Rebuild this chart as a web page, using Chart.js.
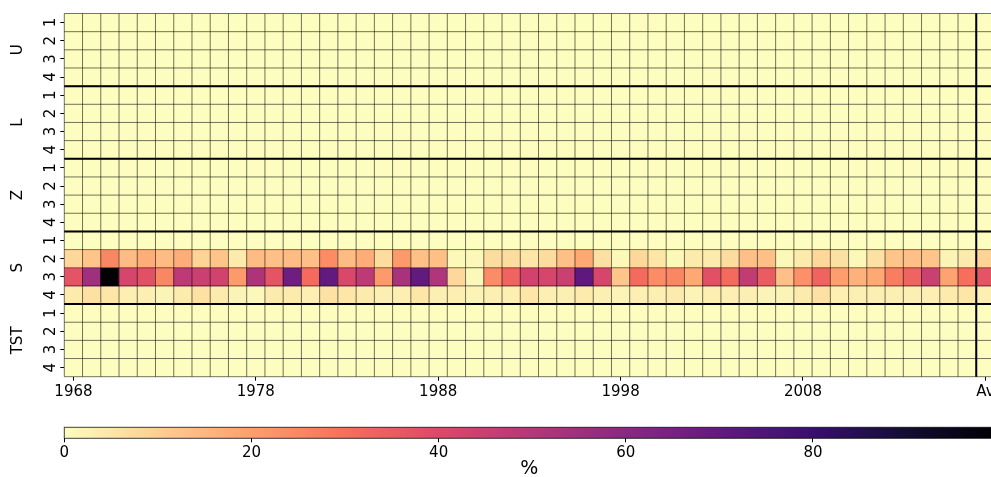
<!DOCTYPE html>
<html>
<head>
<meta charset="utf-8">
<script src="https://cdn.jsdelivr.net/npm/chart.js@4.4.1/dist/chart.umd.min.js"></script>
<style>
  html, body { margin: 0; padding: 0; background: #fff; overflow: hidden; }
  #wrap { position: relative; width: 991px; height: 477px; overflow: hidden; }
  #heat { position: absolute; left: 0; top: 0; }
  #cbar { position: absolute; left: 0; top: 405px; }
</style>
</head>
<body>
<div id="wrap">
  <canvas id="heat" width="1020" height="400"></canvas>
  <canvas id="cbar" width="1020" height="72"></canvas>
</div>
<script>
// Columns: one per year, the last one is the average
const years = [
  '1968', '1969', '1970', '1971', '1972', '1973', '1974', '1975', '1976', '1977',
  '1978', '1979', '1980', '1981', '1982', '1983', '1984', '1985', '1986', '1987',
  '1988', '1989', '1990', '1991', '1992', '1993', '1994', '1995', '1996', '1997',
  '1998', '1999', '2000', '2001', '2002', '2003', '2004', '2005', '2006', '2007',
  '2008', '2009', '2010', '2011', '2012', '2013', '2014', '2015', '2016', '2017',
  'Av'
];
const shownLabels = ['1968', '1978', '1988', '1998', '2008', 'Av'];

const groups = ['U', 'L', 'Z', 'S', 'TST'];
const quarters = ['1', '2', '3', '4'];

// Values in %
const blankRow = [
  0, 0, 0, 0, 0, 0, 0, 0, 0, 0,
  0, 0, 0, 0, 0, 0, 0, 0, 0, 0,
  0, 0, 0, 0, 0, 0, 0, 0, 0, 0,
  0, 0, 0, 0, 0, 0, 0, 0, 0, 0,
  0, 0, 0, 0, 0, 0, 0, 0, 0, 0,
  0
];
const sQ2 = [
  8, 12, 25, 14, 17, 14, 17, 9, 12, 4,
  14, 13, 14, 13, 24, 14, 17, 7, 21, 13,
  13, 1, 1, 7, 7, 5, 7, 13, 18, 6,
  1, 8, 5, 1, 4, 4, 7, 13, 13, 1,
  4, 8, 6, 1, 6, 12, 13, 12, 2, 4,
  9
];
const sQ3 = [
  37, 55, 99, 42, 38, 25, 48, 45, 43, 21,
  52, 37, 67, 31, 70, 41, 48, 21, 53, 70,
  51, 8, 1, 24, 33, 43, 42, 45, 71, 42,
  12, 31, 24, 25, 18, 38, 31, 47, 35, 13,
  23, 33, 20, 16, 18, 27, 33, 45, 19, 30,
  37
];
const sQ4 = [
  4, 6, 5, 3, 3, 2, 4, 6, 4, 2,
  1, 4, 4, 3, 6, 5, 4, 3, 3, 5,
  3, 3, 2, 3, 3, 5, 3, 3, 4, 3,
  2, 3, 3, 4, 2, 3, 3, 3, 2, 2,
  4, 6, 3, 3, 3, 3, 3, 3, 4, 5,
  3
];

const VMAX = 99.4;
const cbarTicks = [0, 20, 40, 60, 80];

// Rows top to bottom: U1..U4, L1..L4, Z1..Z4, S1..S4, TST1..TST4
const rows = [
  blankRow, blankRow, blankRow, blankRow,
  blankRow, blankRow, blankRow, blankRow,
  blankRow, blankRow, blankRow, blankRow,
  blankRow, sQ2, sQ3, sQ4,
  blankRow, blankRow, blankRow, blankRow
];

// magma colormap stops, dark to light (used reversed)
const magma = [
  [0, 0, 4], [20, 14, 54], [59, 15, 112], [100, 26, 128], [140, 41, 129],
  [183, 55, 121], [222, 73, 104], [247, 112, 92], [254, 159, 109],
  [254, 207, 146], [252, 253, 191]
];

function colourFor(v) {
  const t = 1 - Math.min(Math.max(v / VMAX, 0), 1);
  const p = t * 10;
  const i = Math.min(Math.floor(p), 9);
  const f = p - i;
  const a = magma[i], b = magma[i + 1];
  const c = a.map((ch, k) => Math.round(ch + (b[k] - ch) * f));
  return `rgb(${c[0]},${c[1]},${c[2]})`;
}

const font = { family: 'DejaVu Sans', size: 15 };
const textColour = '#000';

// cell edges + group separators
const cellLines = {
  id: 'cellLines',
  afterDatasetsDraw(chart) {
    const { ctx, chartArea: a, scales: { x, y } } = chart;
    const half = (x.getPixelForValue(1) - x.getPixelForValue(0)) / 2;
    ctx.save();
    ctx.strokeStyle = 'rgba(0,0,0,0.55)';
    ctx.lineWidth = 1;
    ctx.beginPath();
    for (let i = 0; i <= years.length; i++) {
      const px = x.getPixelForValue(i) - half;
      ctx.moveTo(px, a.top);
      ctx.lineTo(px, a.bottom);
    }
    for (let r = 0; r <= rows.length; r++) {
      const py = y.getPixelForValue(r);
      ctx.moveTo(a.left, py);
      ctx.lineTo(a.right, py);
    }
    ctx.stroke();

    ctx.strokeStyle = '#000';
    ctx.lineWidth = 2;
    ctx.beginPath();
    for (let g = 1; g < groups.length; g++) {
      const py = y.getPixelForValue(g * quarters.length);
      ctx.moveTo(a.left, py);
      ctx.lineTo(a.right, py);
    }
    const avX = x.getPixelForValue(years.length - 1) - half;
    ctx.moveTo(avX, a.top);
    ctx.lineTo(avX, a.bottom);
    ctx.stroke();
    ctx.restore();
  }
};

const datasets = rows.map((vals, r) => ({
  data: vals.map(() => [r, r + 1]),
  backgroundColor: vals.map(colourFor),
  borderWidth: 0,
  barPercentage: 1,
  categoryPercentage: 1,
  grouped: false
}));

new Chart(document.getElementById('heat'), {
  type: 'bar',
  data: { labels: years, datasets: datasets },
  options: {
    responsive: false,
    animation: false,
    events: [],
    layout: { padding: { top: 12.3, right: 25.5, bottom: 0, left: 0 } },
    plugins: { legend: { display: false }, tooltip: { enabled: false } },
    scales: {
      x: {
        type: 'category',
        offset: true,
        grid: {
          offset: false,
          drawOnChartArea: false,
          tickLength: 4,
          color: (c) => shownLabels.includes(years[c.index]) ? '#000' : 'rgba(0,0,0,0)'
        },
        border: { display: false },
        ticks: {
          autoSkip: false,
          maxRotation: 0,
          minRotation: 0,
          padding: 2,
          color: textColour,
          font: font,
          callback: (v, i) => shownLabels.includes(years[i]) ? years[i] : ''
        },
        afterFit: (s) => { s.height = 23.3; }
      },
      y: {
        type: 'linear',
        position: 'left',
        min: 0,
        max: rows.length,
        reverse: true,
        weight: 0,
        afterBuildTicks: (s) => { s.ticks = rows.map((_, r) => ({ value: r + 0.5 })); },
        ticks: {
          callback: (v, i) => quarters[i % quarters.length],
          minRotation: 90,
          maxRotation: 90,
          crossAlign: 'center',
          padding: 4.5,
          color: textColour,
          font: font
        },
        grid: { drawOnChartArea: false, tickLength: 4, color: '#000' },
        border: { display: false },
        afterFit: (s) => { s.width = 30; }
      },
      yg: {
        type: 'linear',
        position: 'left',
        min: 0,
        max: rows.length,
        reverse: true,
        weight: 1,
        afterBuildTicks: (s) => { s.ticks = groups.map((_, g) => ({ value: g * 4 + 2 })); },
        ticks: {
          callback: (v, i) => groups[i],
          minRotation: 90,
          maxRotation: 90,
          crossAlign: 'center',
          padding: 2,
          color: textColour,
          font: font
        },
        grid: { display: false, drawTicks: false },
        border: { display: false },
        afterFit: (s) => { s.width = 34.3; }
      }
    }
  },
  plugins: [cellLines]
});

// Colorbar
const gradientBar = {
  id: 'gradientBar',
  beforeDatasetsDraw(chart) {
    const { ctx, chartArea: a } = chart;
    const grad = ctx.createLinearGradient(a.left, 0, a.right, 0);
    magma.forEach((c, k) => {
      grad.addColorStop(1 - k / (magma.length - 1), `rgb(${c[0]},${c[1]},${c[2]})`);
    });
    ctx.save();
    ctx.fillStyle = grad;
    ctx.fillRect(a.left, a.top, a.right - a.left, a.bottom - a.top);
    ctx.strokeStyle = 'rgba(0,0,0,0.75)';
    ctx.lineWidth = 1;
    ctx.strokeRect(a.left, a.top, a.right - a.left, a.bottom - a.top);
    ctx.restore();
  }
};

new Chart(document.getElementById('cbar'), {
  type: 'scatter',
  data: { datasets: [{ data: [] }] },
  options: {
    responsive: false,
    animation: false,
    events: [],
    layout: { padding: { top: 22.3, right: 25.5, bottom: 0, left: 64.3 } },
    plugins: { legend: { display: false }, tooltip: { enabled: false } },
    scales: {
      x: {
        type: 'linear',
        min: 0,
        max: VMAX,
        afterBuildTicks: (s) => { s.ticks = cbarTicks.map((v) => ({ value: v })); },
        grid: { drawOnChartArea: false, tickLength: 4, color: '#000' },
        border: { display: false },
        ticks: { padding: 2, color: textColour, font: font },
        title: {
          display: true,
          text: '%',
          color: textColour,
          font: { family: 'DejaVu Sans', size: 19, lineHeight: 0.8 },
          padding: { top: 0, bottom: 0 }
        },
        afterFit: (s) => { s.height = 38.7; }
      },
      y: { display: false, min: 0, max: 1 }
    }
  },
  plugins: [gradientBar]
});
</script>
</body>
</html>
